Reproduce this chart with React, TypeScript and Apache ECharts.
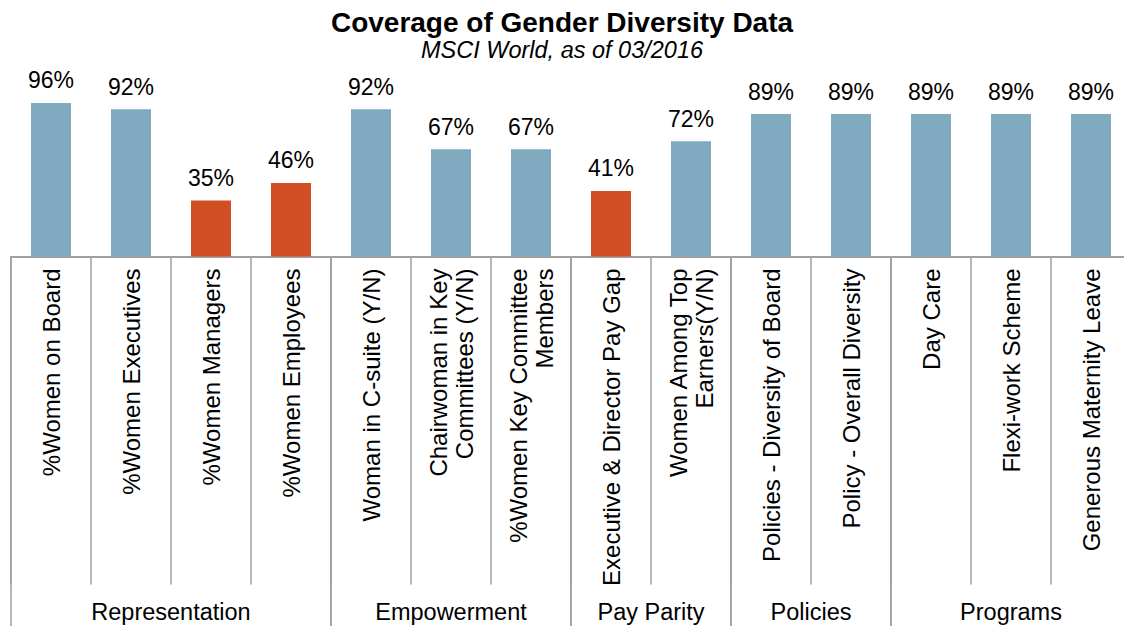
import React, { useEffect, useRef } from "react";
import * as echarts from "echarts";

const categories = [
  "%Women on Board",
  "%Women Executives",
  "%Women Managers",
  "%Women Employees",
  "Woman in C-suite (Y/N)",
  "Chairwoman in Key\nCommittees (Y/N)",
  "%Women Key Committee\nMembers",
  "Executive & Director Pay Gap",
  "Women Among Top\nEarners(Y/N)",
  "Policies - Diversity of Board",
  "Policy - Overall Diversity",
  "Day Care",
  "Flexi-work Scheme",
  "Generous Maternity Leave",
];
const coverage = [96, 92, 35, 46, 92, 67, 67, 41, 72, 89, 89, 89, 89, 89];
const highlighted = [false, false, true, true, false, false, false, true, false, false, false, false, false, false];
const groupNames = ["Representation", "Empowerment", "Pay Parity", "Policies", "Programs"];
const groupStart = [0, 4, 7, 9, 11];
const groupEnd = [3, 6, 8, 10, 13];
const titleText = "Coverage of Gender Diversity Data";
const subtitleText = "MSCI World, as of 03/2016";

const FONT = "'Liberation Sans', Arial, Helvetica, sans-serif";
const BLUE = "#80aabf";
const ORANGE = "#d24e24";
const GRAY = "#a0a0a0";

export default function App() {
  const ref = useRef<HTMLDivElement>(null);
  useEffect(() => {
    if (!ref.current) return;
    const chart = echarts.init(ref.current, null, { renderer: "svg" });
    chart.setOption({
      animation: false,
      backgroundColor: "#ffffff",
      graphic: [
        {
          type: "text",
          x: 562,
          y: 22,
          style: {
            text: titleText,
            align: "center",
            verticalAlign: "middle",
            font: `bold 28px ${FONT}`,
            fill: "#000",
          },
        },
        {
          type: "text",
          x: 562,
          y: 50,
          style: {
            text: subtitleText,
            align: "center",
            verticalAlign: "middle",
            font: `italic 23.5px ${FONT}`,
            fill: "#000",
          },
        },
      ],
      grid: { left: 11, top: 96.5, width: 1120, height: 160, containLabel: false },
      xAxis: {
        type: "category",
        data: categories,
        axisLine: { show: true, lineStyle: { color: GRAY, width: 2 } },
        axisTick: { show: true, length: 328, lineStyle: { color: GRAY, width: 1.5 } },
        axisLabel: {
          interval: 0,
          rotate: 90,
          margin: 12,
          fontFamily: FONT,
          fontSize: 24,
          color: "#000",
          lineHeight: 26,
        },
      },
      yAxis: { type: "value", min: 0, max: 100, show: false },
      series: [
        {
          type: "bar",
          barWidth: "50%",
          data: coverage.map((v, i) => ({
            value: v,
            itemStyle: { color: highlighted[i] ? ORANGE : BLUE },
          })),
          label: {
            show: true,
            position: "top",
            distance: 11,
            formatter: "{c}%",
            fontFamily: FONT,
            fontSize: 23,
            color: "#000",
          },
        },
        {
          type: "custom",
          clip: false,
          silent: true,
          data: groupNames.map((_, i) => [groupStart[i], 0, groupEnd[i]]),
          encode: { x: 0, y: 1 },
          renderItem: (params: any, api: any) => {
            const s = api.coord([api.value(0), 0]);
            const e = api.coord([api.value(2), 0]);
            const bw = api.size([1, 0])[0];
            const x0 = s[0] - bw / 2;
            const x1 = e[0] + bw / 2;
            const y = s[1];
            return {
              type: "group",
              children: [
                {
                  type: "line",
                  shape: { x1: x0, y1: y, x2: x0, y2: y + 400 },
                  style: { stroke: GRAY, lineWidth: 1.5 },
                },
                {
                  type: "line",
                  shape: { x1: x1, y1: y, x2: x1, y2: y + 400 },
                  style: { stroke: GRAY, lineWidth: 1.5 },
                },
                {
                  type: "text",
                  style: {
                    text: groupNames[params.dataIndex],
                    x: (x0 + x1) / 2,
                    y: y + 355,
                    align: "center",
                    verticalAlign: "middle",
                    font: `23.5px ${FONT}`,
                    fill: "#000",
                  },
                },
              ],
            };
          },
        },
      ],
    });
    return () => chart.dispose();
  }, []);
  return (
    <div
      style={{ position: "fixed", left: 0, top: 0, width: 1124, height: 626, overflow: "hidden", background: "#fff" }}
    >
      <div ref={ref} style={{ width: 1140, height: 626 }} />
    </div>
  );
}
